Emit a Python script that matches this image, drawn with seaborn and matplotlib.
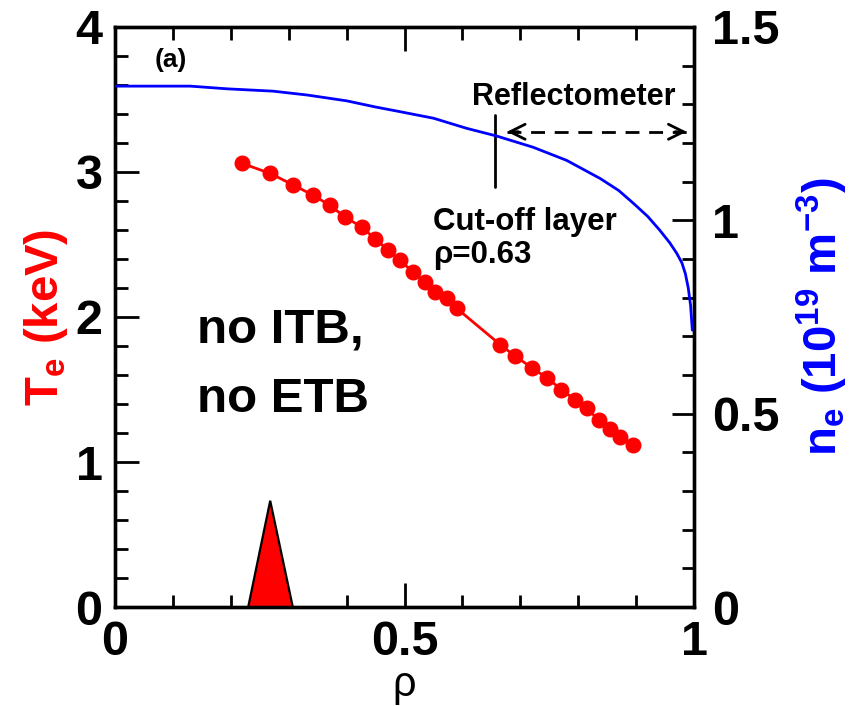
import numpy as np
import pandas as pd
import matplotlib
matplotlib.use("Agg")
import matplotlib.pyplot as plt
import seaborn as sns
from matplotlib.ticker import MultipleLocator

# ---- data ----
rho_te = [0.219, 0.268, 0.308, 0.342, 0.371, 0.397, 0.426, 0.449, 0.472, 0.492,
          0.515, 0.535, 0.553, 0.573, 0.590, 0.665, 0.691, 0.720, 0.746, 0.771,
          0.794, 0.815, 0.835, 0.855, 0.872, 0.895]
te_kev = [3.06, 2.99, 2.91, 2.84, 2.77, 2.69, 2.62, 2.54, 2.46, 2.39,
          2.31, 2.24, 2.17, 2.13, 2.06, 1.81, 1.73, 1.65, 1.58, 1.50,
          1.43, 1.37, 1.29, 1.23, 1.17, 1.12]

rho_ne = [0.0, 0.13, 0.194, 0.273, 0.332, 0.40, 0.45, 0.492, 0.55, 0.607,
          0.659, 0.722, 0.78, 0.838, 0.87, 0.896, 0.92, 0.941, 0.958, 0.97,
          0.979, 0.985, 0.990, 0.994, 0.997]
ne = [1.347, 1.347, 1.340, 1.334, 1.324, 1.309, 1.293, 1.281, 1.264, 1.238,
      1.218, 1.189, 1.155, 1.108, 1.077, 1.043, 1.010, 0.974, 0.942, 0.915,
      0.890, 0.862, 0.825, 0.780, 0.716]

triangle_rho = [0.230, 0.268, 0.307]
triangle_te = [0.0, 0.733, 0.0]

cutoff_rho = 0.657
cutoff_ne = [1.086, 1.272]
arrow_rho = [0.677, 0.987]
arrow_ne = 1.229

x_ticks = [0, 0.5, 1]
x_ticklabels = ["0", "0.5", "1"]
te_ticks = [0, 1, 2, 3, 4]
te_ticklabels = ["0", "1", "2", "3", "4"]
ne_ticks = [0, 0.5, 1, 1.5]
ne_ticklabels = ["0", "0.5", "1", "1.5"]

# ---- style ----
sns.set_theme(style="ticks")
plt.rcParams['font.family'] = ['Liberation Sans', 'DejaVu Sans']
plt.rcParams['font.weight'] = 'bold'
plt.rcParams['axes.labelweight'] = 'bold'
plt.rcParams['text.color'] = 'black'
plt.rcParams['axes.labelcolor'] = 'black'
plt.rcParams['xtick.color'] = 'black'
plt.rcParams['ytick.color'] = 'black'
plt.rcParams['axes.edgecolor'] = 'black'
plt.rcParams['mathtext.fontset'] = 'custom'
plt.rcParams['mathtext.rm'] = 'Liberation Sans:bold'
plt.rcParams['mathtext.bf'] = 'Liberation Sans:bold'
plt.rcParams['mathtext.it'] = 'Liberation Sans:bold'
plt.rcParams['mathtext.default'] = 'bf'

fig = plt.figure(figsize=(8.61, 7.06), dpi=100)
ax = fig.add_axes([0.1336, 0.1402, 0.6725, 0.8216])
ax2 = ax.twinx()

# red Te profile
sns.lineplot(x=rho_te, y=te_kev, ax=ax, color='red', lw=2, marker='o',
             markersize=10.5, markeredgecolor='red', markeredgewidth=1, zorder=4)
# blue ne profile
sns.lineplot(x=rho_ne, y=ne, ax=ax2, color='blue', lw=2, zorder=3)

# triangle marker
ax.fill(triangle_rho, triangle_te, facecolor='#ff0000', edgecolor='black',
        lw=1.6, zorder=5, clip_on=False)

ax.set_xlim(0, 1)
ax.set_ylim(0, 4)
ax2.set_ylim(0, 1.5)

ax.set_xticks(x_ticks)
ax.set_xticklabels(x_ticklabels)
ax.set_yticks(te_ticks)
ax.set_yticklabels(te_ticklabels)
ax2.set_yticks(ne_ticks)
ax2.set_yticklabels(ne_ticklabels)
ax.xaxis.set_minor_locator(MultipleLocator(0.1))
ax.yaxis.set_minor_locator(MultipleLocator(0.2))
ax2.yaxis.set_minor_locator(MultipleLocator(0.1))

ax.tick_params(axis='x', which='both', direction='in', top=True, bottom=True, width=2,
               labelsize=35, pad=9, colors='black')
ax.tick_params(axis='y', which='both', direction='in', left=True, right=False, width=2,
               labelsize=35, pad=9, colors='black')
ax.tick_params(which='major', length=17)
ax.tick_params(which='minor', length=9)
ax2.tick_params(axis='y', which='both', direction='in', right=True, left=False, width=2,
                labelsize=35, pad=13, colors='black')
ax2.tick_params(which='major', length=16)
ax2.tick_params(which='minor', length=9)

for a in (ax, ax2):
    for s in a.spines.values():
        s.set_linewidth(2.4)
        s.set_color('black')

# axis labels
ax.set_xlabel("ρ", fontsize=30, fontweight='normal', color='black')
ax.xaxis.set_label_coords(0.5, -0.100)
ax.set_ylabel(r"T$_\mathbf{e}$ (keV)", fontsize=34, color='red', fontweight='bold')
ax.yaxis.set_label_coords(-0.078, 0.5)
ax2.set_ylabel(r"n$_\mathbf{e}$ (10$^\mathbf{19}$ m$^\mathbf{-3}$)", fontsize=34,
               color='blue', rotation=90, fontweight='bold')
ax2.yaxis.set_label_coords(1.175, 0.5)

# annotations
ax.text(0.097, 3.77, "(a)", fontsize=19, ha='center', va='center', color='black')
ax.text(0.142, 1.91, "no ITB,", fontsize=35.5, ha='left', va='center', color='black')
ax.text(0.142, 1.43, "no ETB", fontsize=35.5, ha='left', va='center', color='black')

ax2.plot([cutoff_rho, cutoff_rho], cutoff_ne, color='black', lw=2)
ax2.plot(arrow_rho, [arrow_ne, arrow_ne], color='black', lw=2, ls=(0, (5, 3.5)))
ax2.annotate('', xy=(arrow_rho[0], arrow_ne), xytext=(arrow_rho[0] + 0.02, arrow_ne),
             arrowprops=dict(arrowstyle='->,head_length=0.9,head_width=0.45', lw=2,
                             color='black', shrinkA=0, shrinkB=0))
ax2.annotate('', xy=(arrow_rho[1], arrow_ne), xytext=(arrow_rho[1] - 0.02, arrow_ne),
             arrowprops=dict(arrowstyle='->,head_length=0.9,head_width=0.45', lw=2,
                             color='black', shrinkA=0, shrinkB=0))

ax.text(0.793, 3.52, "Reflectometer", fontsize=22, ha='center', va='center', color='black')
ax.text(0.549, 2.655, "Cut-off layer", fontsize=22.5, ha='left', va='center', color='black')
ax.text(0.549, 2.43, "ρ=0.63", fontsize=22.5, ha='left', va='center', color='black')

fig.savefig("out.png", dpi=100)
